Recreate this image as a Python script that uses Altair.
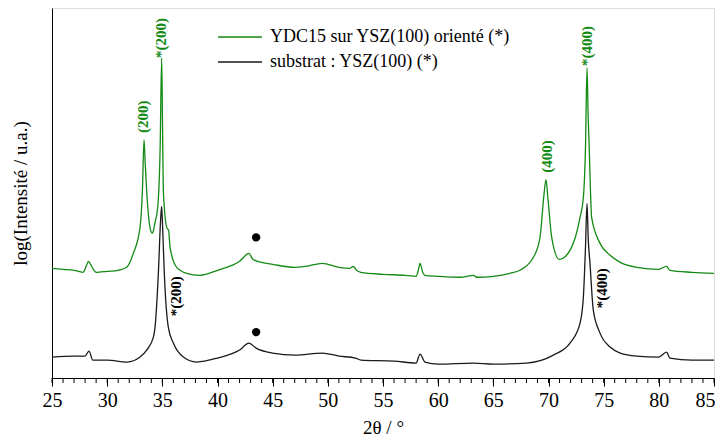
import altair as alt
import pandas as pd

# Green: YDC15 on YSZ(100) -- (2theta, relative log intensity)
g_x = [25, 26, 27, 27.8, 28.1, 28.3, 28.5, 28.8, 29, 30, 31, 31.77, 32.37, 32.98, 33.2, 33.34, 33.45, 33.58, 33.88, 34.09, 34.2, 34.34, 34.58, 34.8, 34.94, 35.02, 35.09, 35.4, 35.57, 35.7, 36.3, 37.2, 38.4, 40, 42, 42.85, 43.2, 44, 45, 47, 48, 49.5, 51, 52, 52.3, 52.6, 53, 55, 57, 58, 58.2, 58.36, 58.6, 58.8, 60, 62, 63.2, 63.5, 65, 66.5, 67.42, 68.63, 69.23, 69.6, 69.77, 69.95, 70.29, 70.98, 71.95, 72.86, 73.16, 73.35, 73.49, 73.6, 73.67, 73.91, 74.67, 75.58, 76.5, 78, 80, 80.7, 81, 83, 85]
g_y = [110, 109, 108, 106, 112, 117, 114, 108, 106, 107, 108, 111, 125, 151, 190, 239, 215, 188, 151, 145, 148, 156, 171, 230, 321, 250, 188, 151, 148, 131, 111, 105, 103, 108, 117, 125, 119, 116, 114, 111, 112, 115, 111, 110, 112, 108, 106, 104, 103, 102, 108, 115, 106, 103, 102, 101, 103, 101, 102, 105, 108, 121, 141, 185, 199, 180, 141, 119, 128, 161, 181, 230, 311, 260, 238, 161, 135, 123, 116, 111, 109, 112, 108, 106, 105]

# Black: substrate YSZ(100)
b_x = [25, 27, 28, 28.35, 28.7, 30, 31.8, 32.98, 33.58, 34.19, 34.34, 34.64, 34.85, 34.94, 35.03, 35.18, 35.54, 36.0, 36.9, 38.1, 40, 42, 42.85, 43.5, 45, 47, 49.5, 51, 52.5, 53, 56, 58, 58.36, 58.8, 60, 63.2, 65, 68, 70.44, 71.95, 72.86, 73.16, 73.35, 73.49, 73.6, 73.76, 74.06, 74.67, 75.58, 76.5, 78, 80, 80.7, 81, 83, 85]
b_y = [21, 22, 22, 27, 18, 18, 16, 21, 28, 41, 51, 105, 160, 172, 150, 105, 51, 35, 21, 16, 20, 28, 35, 30, 25, 23, 25, 22, 20, 18, 17, 15, 24, 16, 14, 15, 14, 15, 23, 35, 55, 81, 130, 175, 140, 115, 68, 45, 31, 25, 22, 21, 26, 20, 18, 18]

series_names = ["YDC15 sur YSZ(100) orienté (*)", "substrat : YSZ(100) (*)"]
series_colors = ["#138a13", "#1a1a1a"]

# Peak labels
lab_text = ["(200)", "*(200)", "(400)", "*(400)", "*(200)", "*(400)"]
lab_x = [33.28, 34.88, 69.85, 73.5, 36.24, 74.82]
lab_y = [262, 341, 222, 333, 82, 90]
lab_color = ["#138a13", "#138a13", "#138a13", "#138a13", "#000000", "#000000"]

# Dots
dot_x = [43.5, 43.5]
dot_y = [141, 46]

major_ticks = list(range(25, 86, 5))
minor_ticks = list(range(25, 86, 1))

W, H = 662, 370
serif = "Liberation Serif"

df = pd.concat([
    pd.DataFrame({"x": g_x, "y": g_y, "s": series_names[0]}),
    pd.DataFrame({"x": b_x, "y": b_y, "s": series_names[1]}),
])

xs = alt.Scale(domain=[25, 85], nice=False, zero=False)
ys = alt.Scale(domain=[0, 371], nice=False, zero=False)

xaxis = alt.Axis(title="2θ / °", values=major_ticks, format="d", tickSize=8,
                 labelFont=serif, labelFontSize=20, titleFont=serif, titleFontSize=19,
                 titleFontWeight="normal", labelColor="#000", titleColor="#000",
                 domainColor="#000", tickColor="#000", labelPadding=4, titlePadding=8,
                 labelAlign={"condition": {"test": "datum.value == 85", "value": "right"}, "value": "center"},
                 labelOffset={"condition": {"test": "datum.value == 85", "value": 1}, "value": 0},
                 grid=False)
yaxis = alt.Axis(title="log(Intensité / u.a.)", labels=False, ticks=False, grid=False,
                 titleFont=serif, titleFontSize=19, titleFontWeight="normal",
                 titleColor="#000", domainColor="#000", titlePadding=22)

lines = alt.Chart(df).mark_line(strokeWidth=1.3, clip=True, interpolate="monotone").encode(
    x=alt.X("x:Q", scale=xs, axis=xaxis),
    y=alt.Y("y:Q", scale=ys, axis=yaxis),
    color=alt.Color("s:N", scale=alt.Scale(domain=series_names, range=series_colors), legend=None),
    order="x:Q",
)

minor = alt.Chart(pd.DataFrame({"t": minor_ticks})).mark_rule(color="#000", strokeWidth=1).encode(
    x=alt.X("t:Q", scale=xs, axis=xaxis),
    y=alt.value(H),
    y2=alt.value(H + 5),
)

labels_df = pd.DataFrame({"t": lab_text, "x": lab_x, "y": lab_y, "c": lab_color})
labels = alt.Chart(labels_df).mark_text(angle=270, font=serif, fontSize=15, fontWeight="bold",
                                        align="center", baseline="middle").encode(
    x=alt.X("x:Q", scale=xs, axis=xaxis),
    y=alt.Y("y:Q", scale=ys, axis=yaxis),
    text="t:N",
    color=alt.Color("c:N", scale=None),
)

dots = alt.Chart(pd.DataFrame({"x": dot_x, "y": dot_y})).mark_circle(size=70, color="#000", opacity=1).encode(
    x=alt.X("x:Q", scale=xs, axis=xaxis),
    y=alt.Y("y:Q", scale=ys, axis=yaxis),
)

# Manual legend (positions in plot pixels)
leg_df = pd.DataFrame({"s": series_names, "c": series_colors, "ly": [29, 54]})
leg_lines = alt.Chart(leg_df).mark_rule(strokeWidth=1.5).encode(
    x=alt.value(166), x2=alt.value(210),
    y=alt.Y("ly:Q", scale=alt.Scale(domain=[0, H], range=[0, H]), axis=None),
    color=alt.Color("c:N", scale=None),
)
leg_text = alt.Chart(leg_df).mark_text(font=serif, fontSize=18, align="left", baseline="middle",
                                       color="#000").encode(
    x=alt.value(218),
    y=alt.Y("ly:Q", scale=alt.Scale(domain=[0, H], range=[0, H]), axis=None),
    text="s:N",
)

main = alt.layer(lines, minor, labels, dots)
legend = alt.layer(leg_lines, leg_text)

chart = alt.layer(main, legend).resolve_scale(y="independent").properties(
    width=W, height=H,
    autosize=alt.AutoSizeParams(type="none"),
    padding={"left": 44, "top": 0, "right": 1, "bottom": 61},
).configure_view(stroke="#000", strokeWidth=1).configure_axis(
    labelFont=serif, titleFont=serif
).configure(background="white")

chart.save("out.html", embed_options={"renderer": "svg", "actions": False})
